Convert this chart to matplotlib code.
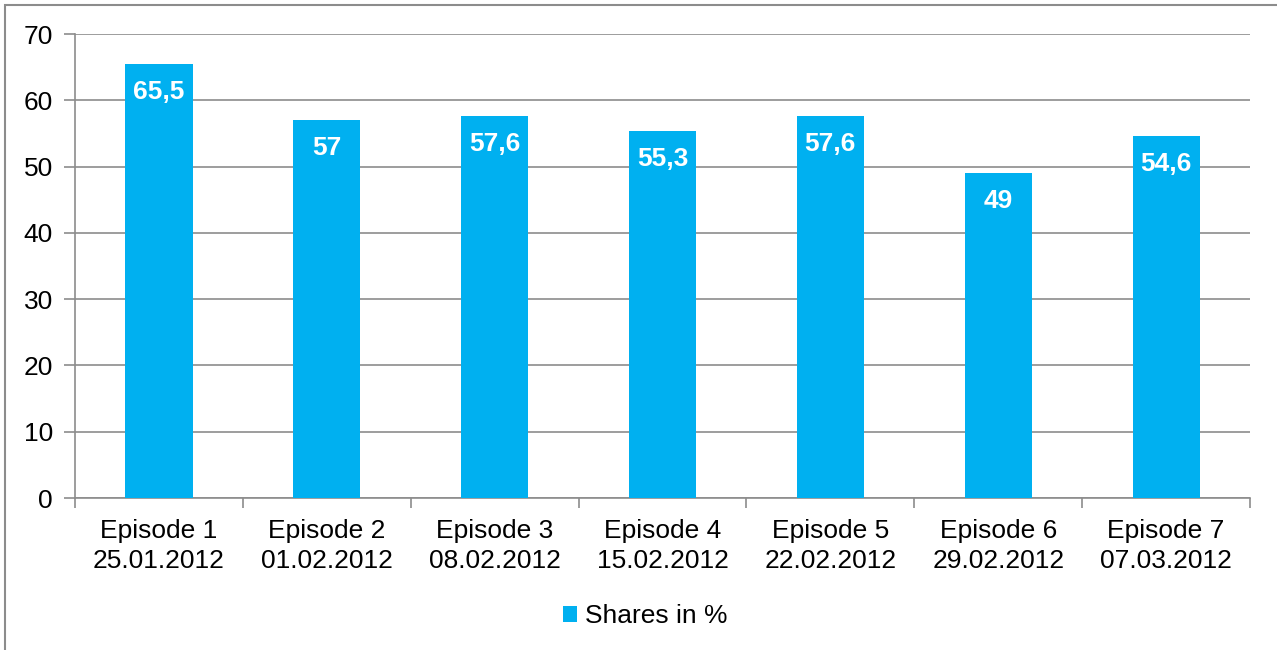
import numpy as np
import matplotlib.pyplot as plt
from matplotlib.patches import Rectangle

episodes = ['Episode 1', 'Episode 2', 'Episode 3', 'Episode 4', 'Episode 5', 'Episode 6', 'Episode 7']
dates = ['25.01.2012', '01.02.2012', '08.02.2012', '15.02.2012', '22.02.2012', '29.02.2012', '07.03.2012']
shares = [65.5, 57, 57.6, 55.3, 57.6, 49, 54.6]
value_labels = ['65,5', '57', '57,6', '55,3', '57,6', '49', '54,6']

plt.rcParams['font.family'] = ['Liberation Sans', 'DejaVu Sans']
grid_col = '#8c8c8c'
bar_col = '#00b0f0'
fs = 19

fig = plt.figure(figsize=(12.77, 6.5), dpi=100)
# outer chart border (only top and left visible in the crop)
fig.patches.append(Rectangle((5 / 1277, -0.1), 1.2, 1.1 - 5 / 650, transform=fig.transFigure,
                             fill=False, edgecolor='#8c8c8c', linewidth=1.5))
ax = fig.add_axes([75 / 1277, 1 - 498 / 650, 1175 / 1277, 464 / 650])

x = np.arange(len(shares))
ax.bar(x, shares, width=0.4, color=bar_col, label='Shares in %', zorder=3)
for xi, v, lab in zip(x, shares, value_labels):
    ax.annotate(lab, (xi, v), xytext=(0, -20), textcoords='offset points',
                ha='center', va='center', color='white', fontsize=fs, fontweight='bold', zorder=4)

ax.set_xlim(-0.5, len(shares) - 0.5)
ax.set_ylim(0, 70)
ax.set_yticks(range(0, 71, 10))
ax.yaxis.grid(True, color=grid_col, linewidth=1.2, zorder=0)
ax.tick_params(axis='y', labelsize=fs, length=8, color=grid_col, width=1.2, pad=8)
ax.set_xticks(x)
ax.set_xticklabels([e + '\n' + d for e, d in zip(episodes, dates)], fontsize=fs, linespacing=1.3)
ax.tick_params(axis='x', length=0, pad=15)
ax.set_xticks(np.arange(-0.5, len(shares), 1), minor=True)
ax.tick_params(axis='x', which='minor', length=7, color=grid_col, width=1.2)
for s in ['top', 'right']:
    ax.spines[s].set_visible(False)
for s in ['left', 'bottom']:
    ax.spines[s].set_color(grid_col)
    ax.spines[s].set_linewidth(1.2)

fig.legend(loc='center', bbox_to_anchor=(645 / 1277, 1 - 616 / 650), frameon=False, fontsize=fs,
           handlelength=0.55, handleheight=0.55, handletextpad=0.3)

plt.savefig('out.png', dpi=100)
